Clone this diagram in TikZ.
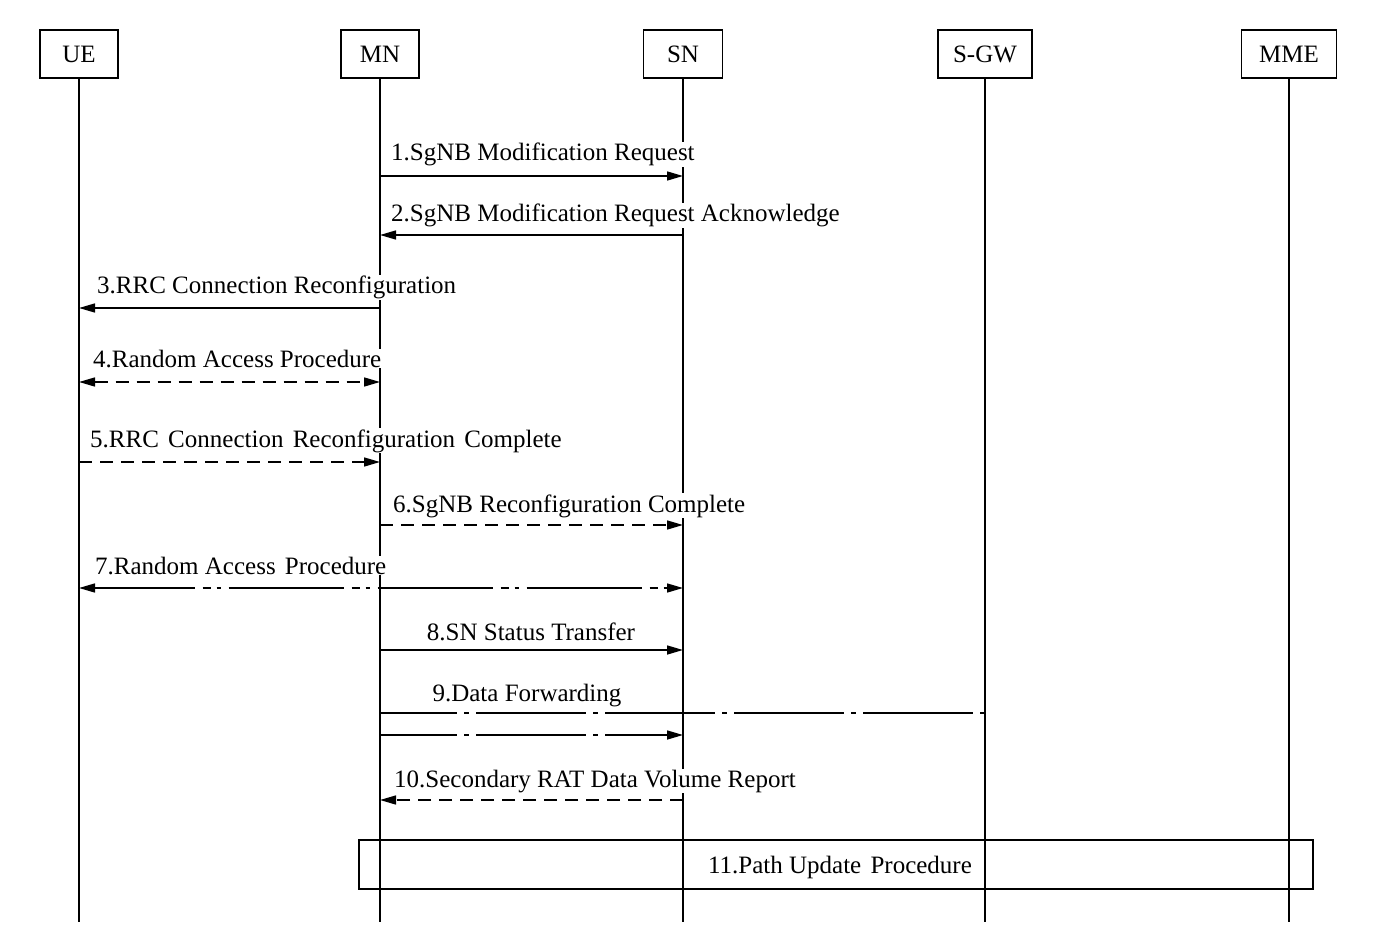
\documentclass[tikz,border=0pt]{standalone}
\usepackage{fontspec}
\setmainfont{Liberation Serif}
\usetikzlibrary{arrows.meta}
\begin{document}
\begin{tikzpicture}[x=1pt,y=-1pt,
  ent/.style={draw,line width=1.5pt,minimum height=48pt,inner sep=0pt,font=\fontsize{25}{28}\selectfont},
  life/.style={line width=1.5pt},
  msg/.style={line width=1.5pt,-{Triangle[length=16pt,width=9pt]}},
  bimsg/.style={line width=1.5pt,{Triangle[length=16pt,width=9pt]}-{Triangle[length=16pt,width=9pt]}},
  dsh/.style={dash pattern=on 13pt off 8pt},
  ddot/.style={dash pattern=on 115pt off 8pt on 8pt off 6pt on 4pt off 8pt, dash phase=15pt},
  dchain/.style={dash pattern=on 110pt off 7pt on 5pt off 7pt, dash phase=33pt},
  lbl/.style={fill=white,inner sep=1pt,font=\fontsize{25}{28}\selectfont},
]
\useasboundingbox (0,0) rectangle (1400,941);
% entities
\node[ent,minimum width=78pt] (UE) at (79,54) {UE};
\node[ent,minimum width=78pt] (MN) at (380,54) {MN};
\node[ent,minimum width=79pt] (SN) at (683,54) {SN};
\node[ent,minimum width=94pt] (SGW) at (985,54) {S-GW};
\node[ent,minimum width=95pt] (MME) at (1289,54) {MME};
% lifeline ends
\coordinate (bot) at (0,922);
\coordinate (UEb) at (UE.south |- bot);
\coordinate (MNb) at (MN.south |- bot);
\coordinate (SNb) at (SN.south |- bot);
\coordinate (SGWb) at (SGW.south |- bot);
\coordinate (MMEb) at (MME.south |- bot);
\draw[life] (UE.south) -- (UEb);
\draw[life] (MN.south) -- (MNb);
\draw[life] (SN.south) -- (SNb);
\draw[life] (SGW.south) -- (SGWb);
\draw[life] (MME.south) -- (MMEb);
% message rows
\coordinate (m1) at (0,176);
\coordinate (m2) at (0,235);
\coordinate (m3) at (0,308);
\coordinate (m4) at (0,382);
\coordinate (m5) at (0,462);
\coordinate (m6) at (0,525);
\coordinate (m7) at (0,588);
\coordinate (m8) at (0,650);
\coordinate (m9a) at (0,713);
\coordinate (m9b) at (0,735);
\coordinate (m10) at (0,800);
% 11 box
\node[draw,line width=1.5pt,minimum width=954pt,minimum height=49pt,inner sep=0pt] (P) at (836,864.5) {};
% messages
\draw[msg] (MN |- m1) -- (SN |- m1);
\draw[msg] (SN |- m2) -- (MN |- m2);
\draw[msg] (MN |- m3) -- (UE |- m3);
\draw[bimsg,dsh] (UE |- m4) -- (MN |- m4);
\draw[msg,dsh] (UE |- m5) -- (MN |- m5);
\draw[msg,dsh] (MN |- m6) -- (SN |- m6);
\draw[bimsg,ddot] (UE |- m7) -- (SN |- m7);
\draw[msg] (MN |- m8) -- (SN |- m8);
\draw[life,dchain] (MN |- m9a) -- (SGW |- m9a);
\draw[msg,dchain] (MN |- m9b) -- (SN |- m9b);
\draw[msg,dsh] (SN |- m10) -- (MN |- m10);
% labels
\node[lbl,anchor=base west] (l1) at (390,161) {1.SgNB Modification Request};
\node[lbl,anchor=base west] (l2) at (390,222) {2.SgNB Modification Request Acknowledge};
\node[lbl,anchor=base west] (l3) at (96,294) {3.RRC Connection Reconfiguration};
\node[lbl,anchor=base west] (l4) at (92,367) {4.Random Access Procedure};
\node[lbl,anchor=base west] (l5) at (89,447) {5.RRC\hspace{3pt} Connection\hspace{3pt} Reconfiguration\hspace{3pt} Complete};
\node[lbl,anchor=base west] (l6) at (392,512) {6.SgNB Reconfiguration Complete};
\node[lbl,anchor=base west] (l7) at (94,574) {7.Random Access\hspace{3pt} Procedure};
\node[lbl,anchor=base] (l8) at (531,640) {8.SN Status Transfer};
\node[lbl,anchor=base] (l9) at (527,701) {9.Data Forwarding};
\node[lbl,anchor=base west] (l10) at (393,787) {10.Secondary RAT Data Volume Report};
\node[lbl,anchor=base] (l11) at (840,873) {11.Path Update\hspace{3pt} Procedure};
\end{tikzpicture}
\end{document}
